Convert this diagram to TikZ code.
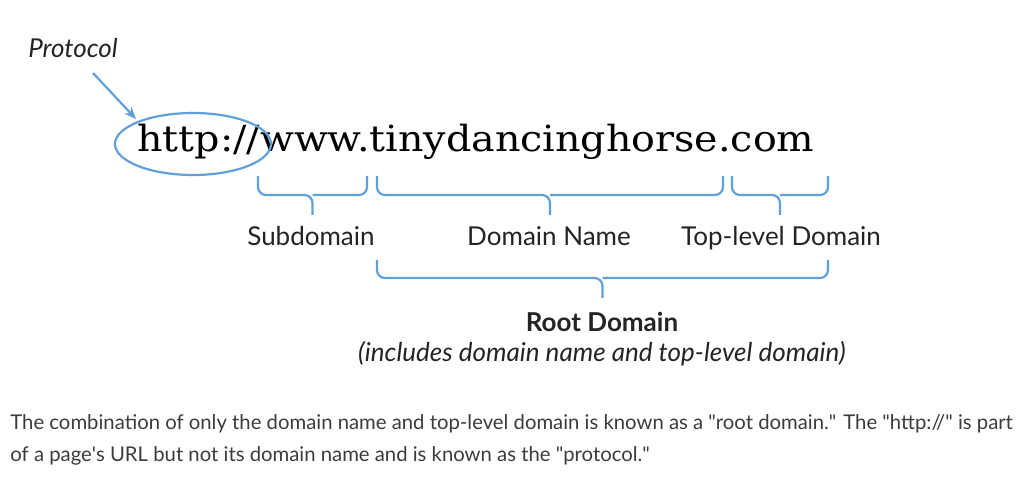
\documentclass[tikz,border=0pt]{standalone}
\usepackage{fontspec}
\setmainfont{Lato}
\newfontfamily\slabfont{DejaVu Serif}
\usetikzlibrary{positioning,calc,arrows.meta}

\definecolor{urlblue}{RGB}{98,160,218}
\definecolor{labelgray}{RGB}{36,36,36}
\definecolor{textgray}{RGB}{60,60,60}

\tikzset{
  bracket/.style={urlblue, line width=1.1pt, rounded corners=4pt},
  partlabel/.style={font=\fontsize{13}{15}\selectfont, text=labelgray, inner sep=0pt},
  bodytext/.style={font=\fontsize{10.15}{12}\selectfont, text=textgray, inner sep=0pt, anchor=base west},
}

% brace under a part of the url: name, left x, right x, top y, flat y
\newcommand{\urlbrace}[5]{%
  \coordinate (#1-tip) at ({(#2+#3)/2},#5+20);
  \draw[bracket] (#2,#4) -- (#2,#5) -- ({(#2+#3)/2},#5) -- (#1-tip);
  \draw[bracket] (#3,#4) -- (#3,#5) -- ({(#2+#3)/2},#5);
}

\begin{document}
\begin{tikzpicture}[x=0.5pt,y=-0.5pt]

  \useasboundingbox[fill=white] (0,0) rectangle (1024,490);

  % The url itself.
  \node[inner sep=0pt, anchor=base west, font=\slabfont\fontsize{18}{20}\selectfont, text=black]
    (url) at (137,152) {\scalebox{1.1}[1]{http://www.tinydancinghorse.com}};

  % Protocol circled and pointed at.
  \draw[urlblue, line width=1.1pt] (193,144) ellipse [x radius=78, y radius=31];
  \node[font=\itshape\fontsize{13}{15}\selectfont, text=labelgray, inner sep=0pt] (proto) at (73,48) {Protocol};
  \coordinate (arrowtip) at (136,119);
  \draw[urlblue, line width=1.1pt, -{Stealth[length=6pt,width=5pt]}] (93,73) -- (arrowtip);

  % Braces for the parts.
  \urlbrace{sub}{258}{367}{176}{195}
  \urlbrace{dom}{377}{723}{176}{195}
  \urlbrace{tld}{732}{828}{176}{195}

  \node[partlabel, anchor=base] (sublabel) at (311,246) {Subdomain};
  \node[partlabel, anchor=base] (domlabel) at (549,246) {Domain Name};
  \node[partlabel, anchor=base] (tldlabel) at (781,246) {Top-level Domain};

  % Root domain brace.
  \urlbrace{root}{377}{828}{260}{278}
  \node[partlabel, anchor=base, font=\bfseries\fontsize{13}{15}\selectfont] (rootlabel) at (602,332) {Root Domain};
  \node[partlabel, anchor=base, font=\itshape\fontsize{13}{15}\selectfont] (rootnote) at (602,362)
    {(includes domain name and top-level domain)};

  % Caption under the picture.
  \node[bodytext] (line1) at (10,430) {The combination of only the domain name and top-level domain is known as a \textquotedbl root domain.\textquotedbl{} The \textquotedbl http://\textquotedbl{} is part};
  \node[bodytext] (line2) at (10,462) {of a page\textquotesingle s URL but not its domain name and is known as the \textquotedbl protocol.\textquotedbl};

\end{tikzpicture}
\end{document}
